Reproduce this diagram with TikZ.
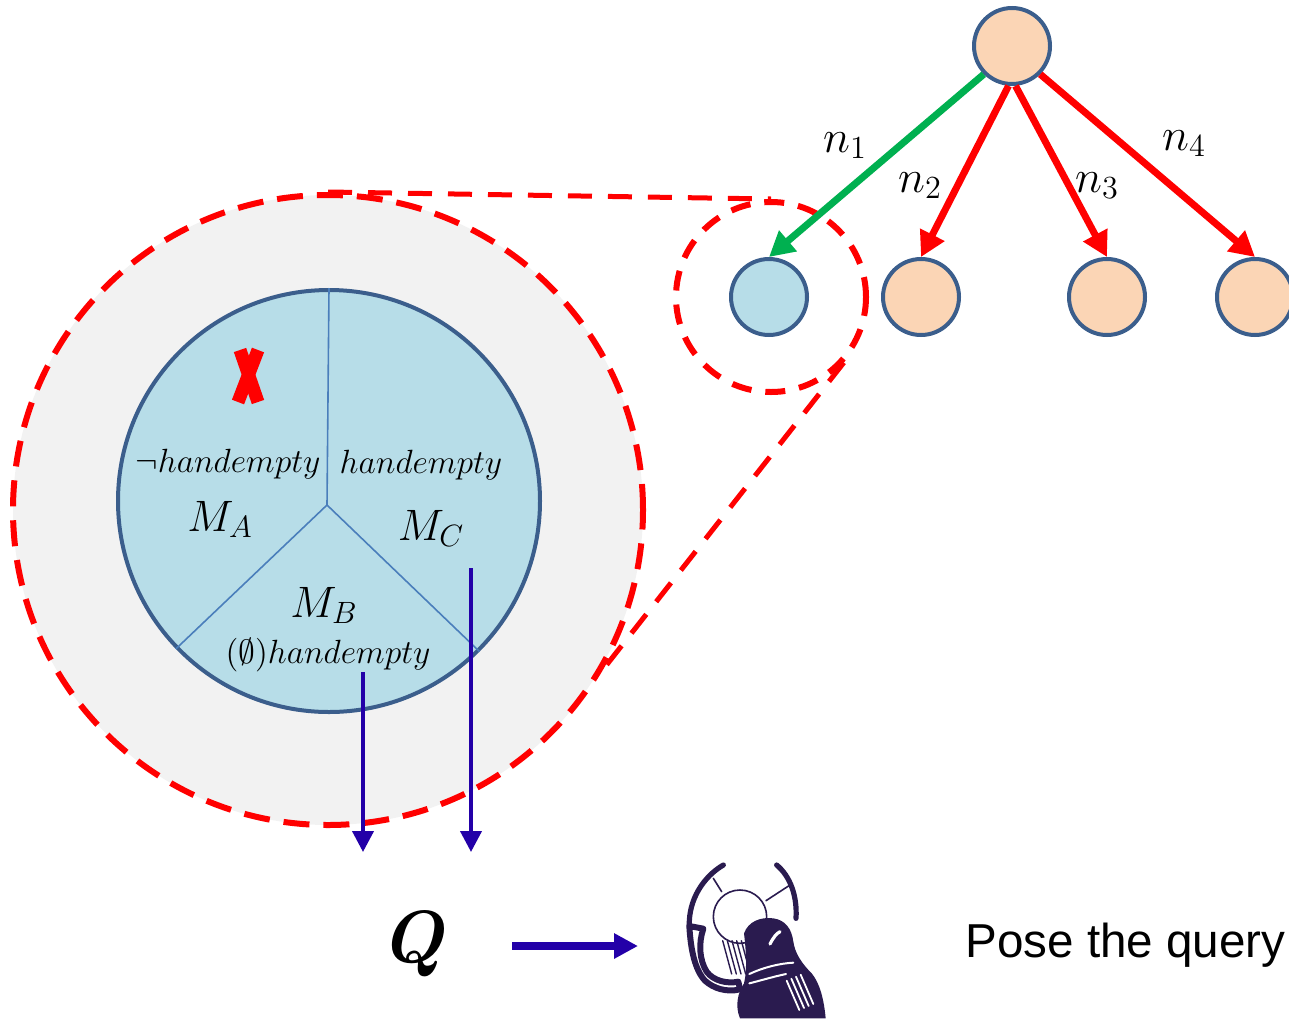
\RequirePackage{fix-cm}
\documentclass[tikz,border=0pt]{standalone}
\usepackage{amssymb}
\usepackage{fontspec}
\newfontfamily\arialfont{Liberation Sans}
\usetikzlibrary{arrows.meta}

\definecolor{zoomgrey}{HTML}{F2F2F2}
\definecolor{modelblue}{HTML}{B7DDE8}
\definecolor{rim}{HTML}{3B5E8C}
\definecolor{divider}{HTML}{4A7EBB}
\definecolor{peach}{HTML}{FBD5B5}
\definecolor{okgreen}{HTML}{00B050}
\definecolor{indigo}{HTML}{2300A8}
\definecolor{robot}{HTML}{2A1B4F}

\begin{document}
\begin{tikzpicture}[x=0.5pt,y=-0.5pt,
  treenode/.style={circle,draw=rim,line width=2pt,minimum size=38pt,inner sep=0pt},
  leaf/.style={treenode,fill=peach},
  chosen/.style={treenode,fill=modelblue},
  goodedge/.style={draw=okgreen,line width=3.5pt,-{Triangle[length=12.5pt,width=13pt]}},
  badedge/.style={draw=red,line width=3.5pt,-{Triangle[length=12.5pt,width=13pt]}},
  zoomline/.style={draw=red,line width=2.5pt,dash pattern=on 12pt off 8pt},
  flow/.style={draw=indigo,line width=2pt,-{Triangle[length=10.5pt,width=10.5pt]}},
  lbl/.style={inner sep=0pt,anchor=base},
  small/.style={lbl,font=\fontsize{16.8}{20}\selectfont},
  big/.style={lbl,font=\fontsize{22}{26}\selectfont},
  edgelbl/.style={lbl,font=\fontsize{23}{27}\selectfont}
]
\path[use as bounding box] (0,0) rectangle (1289,1023);
\clip (0,0) rectangle (1289,1023);

% magnified view of the chosen node
\node[circle,fill=zoomgrey,draw=red,line width=3pt,dash pattern=on 13pt off 7pt,
      minimum size=315pt,inner sep=0pt] (zoom) at (328,510) {};
\node[circle,fill=modelblue,draw=rim,line width=2pt,minimum size=211pt,inner sep=0pt]
      (model) at (329,501) {};
\coordinate (hub) at (327,505);
\draw[divider,line width=0.8pt] (hub) -- (model.north);
\draw[divider,line width=0.8pt] (hub) -- (model.224);
\draw[divider,line width=0.8pt] (hub) -- (model.-45);

% rejected model mark
\coordinate (xa) at (240,350);
\coordinate (xb) at (258,402);
\coordinate (xc) at (258,350);
\coordinate (xd) at (238,402);
\draw[red,line width=6.5pt] (xa) -- (xb);
\draw[red,line width=6.5pt] (xc) -- (xd);

% partition labels
\node[small] (la) at (228,472) {$\neg handempty$};
\node[small] (lc) at (421,473) {$handempty$};
\node[small] (lb) at (328,663) {$(\emptyset)handempty$};
\node[big] (ma) at (220,531) {$M_A$};
\node[big] (mc) at (431,540) {$M_C$};
\node[big] (mb) at (324,617) {$M_B$};

% search tree
\node[leaf] (root) at (1012,46) {};
\node[chosen] (c1) at (769,297) {};
\node[leaf] (c2) at (921,297) {};
\node[leaf] (c3) at (1107,297) {};
\node[leaf] (c4) at (1255,297) {};

\node[circle,draw=red,line width=3pt,dash pattern=on 10pt off 7pt,
      minimum size=95pt,inner sep=0pt] (focus) at (771,297) {};

\draw[zoomline] (zoom.north) -- (focus.north);
\draw[zoomline] (focus.-42) -- (zoom.-30);

\draw[goodedge] (root.225) -- (c1.north);
\draw[badedge] (root.-95) -- (c2.north);
\draw[badedge] (root.-85) -- (c3.north);
\draw[badedge] (root.-45) -- (c4.north);

\node[edgelbl] (n1) at (845,152) {$n_1$};
\node[edgelbl] (n2) at (920,192) {$n_2$};
\node[edgelbl] (n3) at (1097,192) {$n_3$};
\node[edgelbl] (n4) at (1184,150) {$n_4$};

% models passed on to the query
\coordinate (b1s) at (363,672);
\coordinate (b1e) at (363,852);
\coordinate (b2s) at (471,568);
\coordinate (b2e) at (471,852);
\draw[flow] (b1s) -- (b1e);
\draw[flow] (b2s) -- (b2e);

\node[lbl,font=\fontsize{37}{44}\selectfont\bfseries\itshape] (Q) at (412,962) {Q};
\coordinate (qa) at (512,946);
\coordinate (qb) at (638,946);
\draw[draw=indigo,line width=4pt,-{Triangle[length=12pt,width=12pt]}] (qa) -- (qb);

% robot (local grid: 3 units per pixel)
\begin{scope}[shift={(660,850)},scale=1/3,draw=robot,line cap=round,line join=round]
  % visor and helmet rims
  \draw[line width=0.8pt,fill=white] (240,200) circle[radius=80];
  \draw[line width=0.8pt] (318,152) -- (390,105);
  \draw[line width=0.8pt] (160,85) -- (185,125);
  \draw[line width=2.6pt] (190,45) .. controls (130,80) and (85,150) .. (88,228);
  \draw[line width=2.6pt] (350,45) .. controls (392,80) and (412,140) .. (408,205);
  % face plate
  \draw[line width=3pt,fill=white] (88,228) -- (130,236)
       .. controls (115,280) and (118,330) .. (140,365)
       .. controls (160,392) and (200,402) .. (235,395)
       -- (240,418)
       .. controls (200,428) and (160,415) .. (135,392)
       .. controls (105,360) and (92,300) .. cycle;
  % neck hatching
  \foreach \k in {0,1,2,3,4} {\draw[line width=0.7pt] (188+14*\k,272) -- (215+14*\k,372);}
  % armour body
  \fill[robot] (252,250) .. controls (265,215) and (300,200) .. (340,205)
       .. controls (375,210) and (395,235) .. (400,275)
       .. controls (405,310) and (425,340) .. (455,370)
       .. controls (480,400) and (492,450) .. (497,505)
       -- (240,505)
       .. controls (225,470) and (232,430) .. (252,400)
       .. controls (262,360) and (258,300) .. cycle;
  % highlights on the armour
  \draw[white,line width=1.6pt] (330,282) .. controls (340,262) and (350,250) .. (360,245);
  \draw[white,line width=1pt] (268,372) .. controls (310,352) and (360,340) .. (400,338);
  \draw[white,line width=1pt] (268,400) .. controls (300,392) and (340,380) .. (378,372);
  \foreach \k in {0,1,2,3} {\draw[white,line width=0.9pt] (380+14*\k,392-6*\k) -- (418+14*\k,480-6*\k);}
\end{scope}

\node[lbl,anchor=base west,font=\arialfont\fontsize{23.8}{28}\selectfont] (pose) at (965,957) {Pose the query};
\end{tikzpicture}
\end{document}
